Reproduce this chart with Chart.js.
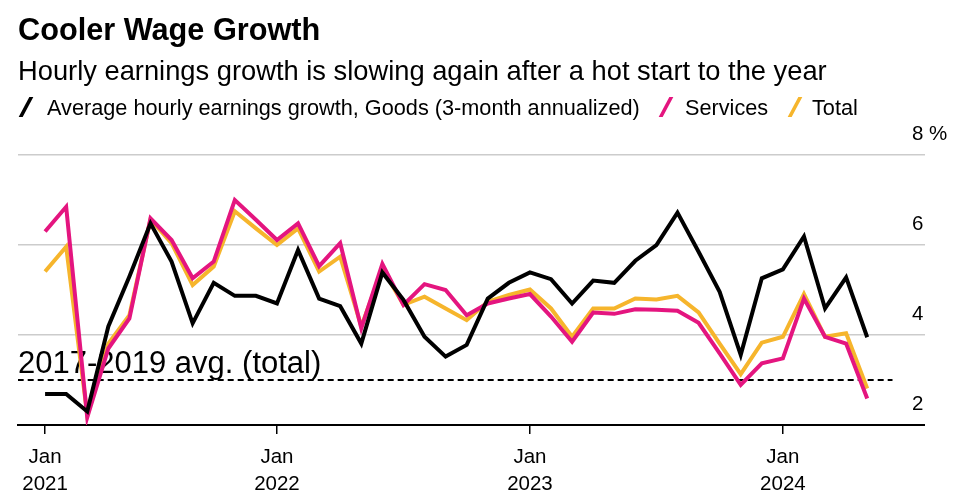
<!DOCTYPE html>
<html>
<head>
<meta charset="utf-8">
<script src="https://cdn.jsdelivr.net/npm/chart.js@4.4.1/dist/chart.umd.min.js"></script>
<style>
html,body{margin:0;padding:0;background:#fff;width:958px;height:499px;overflow:hidden;font-family:"Liberation Sans",Arial,sans-serif;color:#000}
#wrap{position:relative;width:958px;height:499px}
canvas{position:absolute;left:0;top:0}
.t{position:absolute;white-space:nowrap;line-height:normal}
#title{left:18px;top:12px;font-size:30.7px;font-weight:bold}
#sub{left:18px;top:55px;font-size:27.3px}
.lg{position:absolute;top:95px;font-size:21.7px;white-space:nowrap;line-height:normal}
.sw{position:absolute;top:97px;width:4px;height:20px;transform:skewX(-28deg)}
</style>
</head>
<body>
<div id="wrap">
<canvas id="c" width="958" height="499"></canvas>
<div class="t" id="title">Cooler Wage Growth</div>
<div class="t" id="sub">Hourly earnings growth is slowing again after a hot start to the year</div>
<div class="sw" style="left:24px;background:#000"></div>
<div class="lg" style="left:47px">Average hourly earnings growth, Goods (3-month annualized)</div>
<div class="sw" style="left:664px;background:#e4157f"></div>
<div class="lg" style="left:685px">Services</div>
<div class="sw" style="left:793px;background:#f6b52c"></div>
<div class="lg" style="left:812px">Total</div>
</div>
<script>
// ---- data ----
const months = ["2021-02","2021-03","2021-04","2021-05","2021-06","2021-07","2021-08","2021-09","2021-10","2021-11","2021-12",
"2022-01","2022-02","2022-03","2022-04","2022-05","2022-06","2022-07","2022-08","2022-09","2022-10","2022-11","2022-12",
"2023-01","2023-02","2023-03","2023-04","2023-05","2023-06","2023-07","2023-08","2023-09","2023-10","2023-11","2023-12",
"2024-01","2024-02","2024-03","2024-04","2024-05"];
const goods = [2.69,2.69,2.30,4.19,5.30,6.48,5.63,4.26,5.16,4.87,4.87,4.70,5.89,4.81,4.64,3.81,5.39,4.78,3.96,3.52,
3.78,4.81,5.16,5.39,5.24,4.70,5.21,5.16,5.65,6.00,6.72,5.85,4.96,3.56,5.26,5.46,6.19,4.59,5.28,3.95];
const services = [6.30,6.85,2.17,3.70,4.37,6.59,6.11,5.26,5.63,7.00,6.56,6.11,6.48,5.53,6.04,4.15,5.58,4.67,5.13,5.00,
4.44,4.70,4.81,4.91,4.41,3.85,4.50,4.47,4.57,4.56,4.54,4.27,3.59,2.89,3.37,3.48,4.81,3.96,3.81,2.59];
const total = [5.41,5.96,2.22,3.81,4.44,6.57,6.04,5.11,5.52,6.75,6.37,6.00,6.37,5.41,5.74,4.19,5.48,4.67,4.85,4.59,
4.33,4.74,4.89,5.01,4.59,3.96,4.59,4.59,4.81,4.79,4.87,4.50,3.81,3.13,3.83,3.96,4.91,3.96,4.04,2.81];
const avgTotal = 3.0;
const avgLabel = "2017-2019 avg. (total)";
const xTickMonths = ["2021-02","2022-01","2023-01","2024-01"];
const xTickLabels = [["Jan","2021"],["Jan","2022"],["Jan","2023"],["Jan","2024"]];
const yTicks = [2,4,6,8];
const yTickLabels = ["2","4","6","8 %"];
const avgSpan = ["2020-12","2024-06"];

// ---- helpers ----
function monthIndex(s){const p=s.split('-').map(Number);return (p[0]-2021)*12+(p[1]-1);}
const pts = arr => arr.map((v,i)=>({x:monthIndex(months[i]),y:v}));
const FONT = '"Liberation Sans", Arial, sans-serif';

const avgLabelPlugin = {
  id:'avgLabel',
  beforeDatasetsDraw(chart){
    const {ctx, chartArea, scales} = chart;
    ctx.save();
    ctx.font = '31px ' + FONT;
    ctx.fillStyle = '#000';
    ctx.textBaseline = 'alphabetic';
    ctx.textAlign = 'left';
    ctx.fillText(avgLabel, chartArea.left, scales.y.getPixelForValue(avgTotal) - 7);
    ctx.restore();
  }
};

const lineDs = (data,color) => ({data:pts(data),borderColor:color,borderWidth:4,pointRadius:0,tension:0,borderJoinStyle:'miter',borderCapStyle:'butt',fill:false});

new Chart(document.getElementById('c'),{
  type:'line',
  data:{datasets:[
    lineDs(goods,'#000000'),
    lineDs(services,'#e4157f'),
    lineDs(total,'#f6b52c'),
    {data:[{x:monthIndex(avgSpan[0])+0.7,y:avgTotal},{x:monthIndex(avgSpan[1])+0.2,y:avgTotal}],borderColor:'#000',borderWidth:2,borderDash:[6,4],pointRadius:0,fill:false}
  ]},
  options:{
    responsive:false,
    animation:false,
    events:[],
    layout:{padding:{left:18,top:155,right:0,bottom:0}},
    plugins:{legend:{display:false},tooltip:{enabled:false},title:{display:false}},
    scales:{
      x:{
        type:'linear',
        min:-0.285, max:42.03,
        afterBuildTicks:s=>{s.ticks = xTickMonths.map(m=>({value:monthIndex(m)}));},
        afterFit:s=>{s.height = 74;},
        grid:{drawOnChartArea:false,drawTicks:true,tickLength:9,color:'#000',lineWidth:1.5},
        border:{display:true,color:'#000',width:2},
        ticks:{autoSkip:false,maxRotation:0,minRotation:0,padding:10,color:'#000',
          font:{family:FONT,size:20.5,lineHeight:1.3},
          callback:(v,i)=>xTickLabels[i]}
      },
      y:{
        type:'linear',
        position:'right',
        min:2, max:8,
        afterBuildTicks:s=>{s.ticks = yTicks.map(v=>({value:v}));},
        afterFit:s=>{s.width = 48;},
        grid:{drawTicks:true,tickLength:15,
          color:c=>(c.tick && c.tick.value===2)?'#000':'#cccccc',
          lineWidth:c=>(c.tick && c.tick.value===2)?2:1.5},
        border:{display:false},
        ticks:{padding:-13,labelOffset:-21,color:'#000',font:{family:FONT,size:20.5},
          callback:(v,i)=>yTickLabels[i]}
      }
    }
  },
  plugins:[avgLabelPlugin]
});
</script>
</body>
</html>
